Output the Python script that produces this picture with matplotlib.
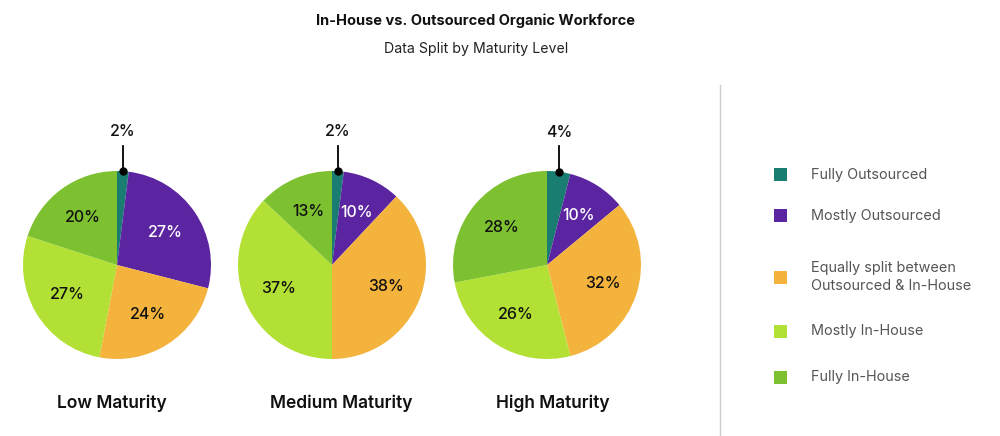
import matplotlib
matplotlib.use("Agg")
import matplotlib.pyplot as plt
from matplotlib.patches import Rectangle
import numpy as np

categories = ["Fully Outsourced", "Mostly Outsourced",
              "Equally split between\nOutsourced & In-House",
              "Mostly In-House", "Fully In-House"]
groups = ["Low Maturity", "Medium Maturity", "High Maturity"]
low = [2, 27, 24, 27, 20]
medium = [2, 10, 38, 37, 13]
high = [4, 10, 32, 26, 28]
values = [low, medium, high]
colors = ["#1a7d72", "#5b24a0", "#f3b33d", "#b3e034", "#7dc130"]
text_colors = ["#111111", "#ffffff", "#111111", "#111111", "#111111"]

plt.rcParams['font.family'] = ['Inter', 'DejaVu Sans']

W, H = 1000, 436
fig = plt.figure(figsize=(W / 100, H / 100), dpi=100)

def px_axes(cx, cy, r):
    return fig.add_axes([(cx - r) / W, 1 - (cy + r) / H, 2 * r / W, 2 * r / H])

centers = [(117, 265), (332, 265), (547, 265)]
title_x = [112, 341, 553]
R = 94
for (cx, cy), vals, name, tx in zip(centers, values, groups, title_x):
    ax = px_axes(cx, cy, R)
    wedges, _ = ax.pie(vals, colors=colors, startangle=90, counterclock=False,
                       radius=1, wedgeprops=dict(linewidth=0))
    ax.set_xlim(-1, 1)
    ax.set_ylim(-1, 1)
    ax.set_aspect('equal')
    ax.axis('off')
    for i, (w, v) in enumerate(zip(wedges, vals)):
        ang = np.deg2rad((w.theta1 + w.theta2) / 2)
        if i == 0:
            x, y = np.cos(ang), np.sin(ang)
            ax.plot([x], [y], 'o', color='black', ms=5, clip_on=False, zorder=5)
            ax.plot([x, x], [y, y + 0.27], color='black', lw=1.3, clip_on=False, zorder=5)
            ax.text(x, y + 0.42, f"{v}%", ha='center', va='center', fontsize=11.5,
                    fontweight='medium', color='#111111', clip_on=False)
        else:
            d = 0.62
            ax.text(d * np.cos(ang), d * np.sin(ang), f"{v}%", ha='center', va='center',
                    fontsize=11.5, fontweight='medium', color=text_colors[i])
    fig.text(tx / W, 1 - 403 / H, name, ha='center', va='center',
             fontsize=12.5, fontweight='semibold', color='#111111')

fig.text(476 / W, 1 - 21 / H, "In-House vs. Outsourced Organic Workforce",
         ha='center', va='center', fontsize=10.5, fontweight='bold', color='#111111')
fig.text(476 / W, 1 - 49 / H, "Data Split by Maturity Level",
         ha='center', va='center', fontsize=10.2, color='#222222')

# separator
fig.add_artist(plt.Line2D([720 / W, 720 / W], [0, 1 - 85 / H],
                          transform=fig.transFigure, color='#cccccc', lw=1))

legend_y = [175, 216, 277, 331, 377]
for c, lab, y in zip(colors, categories, legend_y):
    s = 13
    fig.add_artist(Rectangle(((780 - s / 2) / W, 1 - (y + s / 2) / H), s / W, s / H,
                             transform=fig.transFigure, facecolor=c, edgecolor='none'))
    fig.text(811 / W, 1 - y / H, lab, ha='left', va='center', fontsize=10.4,
             color='#555555', linespacing=1.35)

fig.savefig("out.png", dpi=100, facecolor='white')
